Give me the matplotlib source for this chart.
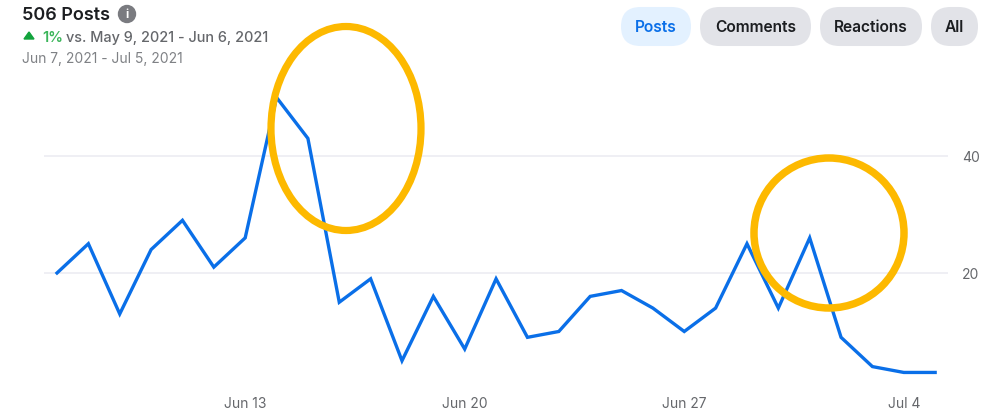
import pandas as pd
import matplotlib
matplotlib.use("Agg")
import matplotlib.pyplot as plt
from matplotlib.patches import Ellipse, FancyBboxPatch, Circle, Polygon

plt.rcParams["font.family"] = ["Inter", "DejaVu Sans"]

# Daily post counts, Jun 7 - Jul 5 2021
dates = pd.date_range("2021-06-07", "2021-07-05")
posts = [20, 25, 13, 24, 29, 21, 26, 50, 43, 15, 19, 5, 16, 7, 19, 9, 10, 16, 17, 14,
         10, 14, 25, 14, 26, 9, 4, 3, 3]
tick_dates = pd.to_datetime(["2021-06-13", "2021-06-20", "2021-06-27", "2021-07-04"])
tick_labels = ["Jun 13", "Jun 20", "Jun 27", "Jul 4"]
y_ticks = [20, 40]
buttons = ["Posts", "Comments", "Reactions", "All"]

BLUE = "#0a6fe8"
GOLD = "#fdb900"
GREY = "#65676b"

W, H = 994, 410
fig = plt.figure(figsize=(W / 100, H / 100), dpi=100, facecolor="white")

# Main chart
ax = fig.add_axes([44 / W, 19 / H, 904 / W, 330 / H])
days = (dates - dates[0]).days
ax.plot(days, posts, color=BLUE, lw=2.4, solid_joinstyle="miter", zorder=3)
ax.set_xlim(-0.415, 28.41)
ax.set_ylim(0, 56.4)
ax.set_yticks(y_ticks)
ax.yaxis.tick_right()
ax.set_xticks((tick_dates - dates[0]).days)
ax.set_xticklabels(tick_labels)
ax.tick_params(length=0, labelsize=10, labelcolor=GREY)
ax.tick_params(axis="y", pad=10)
ax.tick_params(axis="x", pad=4)
ax.grid(axis="y", color="#eeeef3", lw=1.3)
ax.set_axisbelow(True)
for s in ax.spines.values():
    s.set_visible(False)

# Overlay in pixel coordinates for the header and the hand-drawn circles
ov = fig.add_axes([0, 0, 1, 1], facecolor="none")
ov.set_xlim(0, W)
ov.set_ylim(H, 0)
ov.axis("off")

ov.text(22, 15, "506 Posts", fontsize=13, fontweight="semibold", color="#1c1e21", va="center")
ov.add_patch(Circle((127, 15), 8.5, color="#7a7b80"))
ov.text(127, 15, "i", fontsize=8.5, fontweight="bold", color="white", ha="center", va="center")
ov.add_patch(Polygon([(24, 40), (34, 40), (29, 33)], color="#12a33c"))
ov.text(42, 38, "1%", fontsize=10.6, fontweight="semibold", color="#3bb55a", va="center")
ov.text(66, 38, "vs. May 9, 2021 - Jun 6, 2021", fontsize=10.4, fontweight="medium", color=GREY, va="center")
ov.text(22, 59, "Jun 7, 2021 - Jul 5, 2021", fontsize=10, color="#7f8185", va="center")

spans = [(621, 691), (700, 811), (820, 922), (931, 978)]
for label, (x0, x1) in zip(buttons, spans):
    active = label == "Posts"
    ov.add_patch(FancyBboxPatch((x0 + 19.5, 27.49), x1 - x0 - 39, 0.02,
                                boxstyle="round,pad=19.5,rounding_size=19.5", lw=0,
                                fc="#e3f1ff" if active else "#e2e3e8"))
    ov.text((x0 + x1) / 2, 28, label, fontsize=11.2, fontweight="semibold",
            color=BLUE if active else "#1c1e21", ha="center", va="center")

ov.add_patch(Ellipse((346, 129.5), 150, 204, fill=False, ec=GOLD, lw=5.2))
ov.add_patch(Ellipse((829, 234), 150, 150, fill=False, ec=GOLD, lw=5.4))

fig.savefig("out.png", dpi=100)
